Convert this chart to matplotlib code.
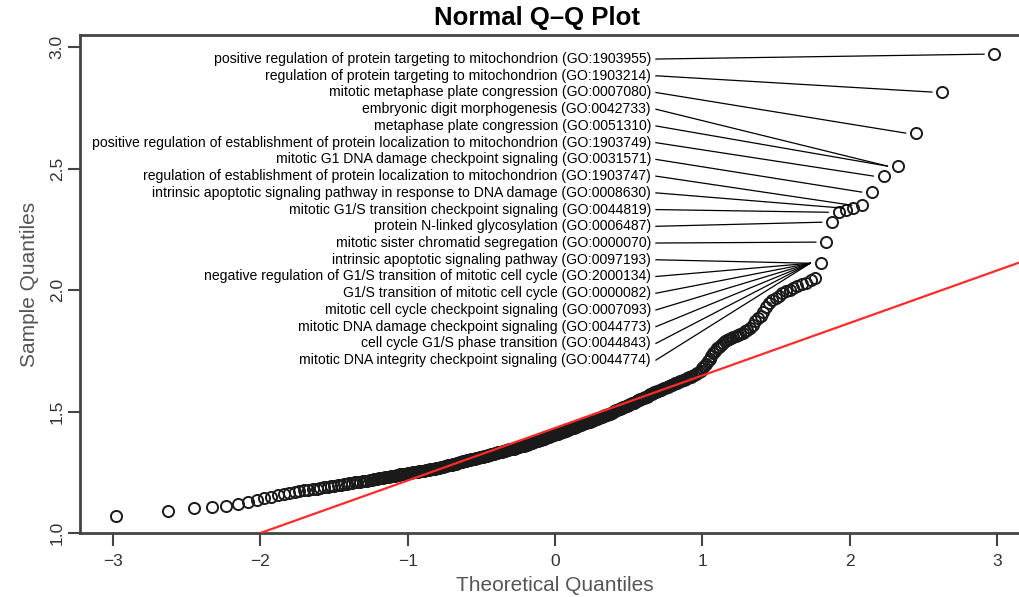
import numpy as np
import matplotlib.pyplot as plt
from statistics import NormalDist

plt.rcParams['font.family'] = ['Liberation Sans', 'DejaVu Sans']

# sorted sample values
sample = [
    1.069, 1.089, 1.101, 1.108, 1.111, 1.118, 1.127, 1.136, 1.144, 1.150,
    1.156, 1.161, 1.166, 1.169, 1.173, 1.176, 1.178, 1.181, 1.183, 1.185,
    1.188, 1.191, 1.193, 1.195, 1.197, 1.199, 1.201, 1.203, 1.205, 1.207,
    1.209, 1.210, 1.212, 1.213, 1.215, 1.216, 1.218, 1.220, 1.221, 1.224,
    1.225, 1.227, 1.228, 1.229, 1.231, 1.232, 1.234, 1.235, 1.236, 1.238,
    1.239, 1.241, 1.242, 1.244, 1.245, 1.246, 1.247, 1.248, 1.250, 1.251,
    1.252, 1.253, 1.254, 1.255, 1.256, 1.257, 1.258, 1.259, 1.260, 1.262,
    1.263, 1.264, 1.265, 1.267, 1.268, 1.269, 1.271, 1.272, 1.273, 1.275,
    1.276, 1.278, 1.279, 1.280, 1.282, 1.283, 1.285, 1.286, 1.288, 1.289,
    1.291, 1.292, 1.293, 1.295, 1.296, 1.297, 1.299, 1.300, 1.301, 1.303,
    1.304, 1.305, 1.306, 1.308, 1.309, 1.310, 1.311, 1.312, 1.313, 1.315,
    1.316, 1.317, 1.319, 1.320, 1.321, 1.322, 1.324, 1.325, 1.326, 1.328,
    1.329, 1.330, 1.332, 1.333, 1.334, 1.335, 1.336, 1.338, 1.339, 1.340,
    1.341, 1.343, 1.344, 1.345, 1.346, 1.347, 1.348, 1.350, 1.351, 1.353,
    1.354, 1.355, 1.357, 1.358, 1.359, 1.360, 1.361, 1.362, 1.364, 1.365,
    1.367, 1.369, 1.370, 1.372, 1.373, 1.375, 1.377, 1.378, 1.380, 1.381,
    1.383, 1.384, 1.386, 1.387, 1.389, 1.390, 1.392, 1.394, 1.395, 1.397,
    1.399, 1.400, 1.402, 1.403, 1.405, 1.406, 1.408, 1.409, 1.411, 1.413,
    1.414, 1.416, 1.417, 1.419, 1.421, 1.422, 1.424, 1.425, 1.427, 1.429,
    1.431, 1.433, 1.434, 1.436, 1.437, 1.439, 1.441, 1.443, 1.444, 1.446,
    1.448, 1.449, 1.451, 1.453, 1.454, 1.456, 1.458, 1.459, 1.461, 1.463,
    1.464, 1.466, 1.468, 1.469, 1.471, 1.472, 1.474, 1.476, 1.477, 1.480,
    1.482, 1.484, 1.486, 1.488, 1.490, 1.492, 1.494, 1.496, 1.498, 1.501,
    1.503, 1.505, 1.507, 1.509, 1.511, 1.513, 1.515, 1.517, 1.520, 1.522,
    1.525, 1.527, 1.529, 1.531, 1.534, 1.536, 1.537, 1.538, 1.542, 1.546,
    1.548, 1.550, 1.553, 1.555, 1.558, 1.560, 1.562, 1.565, 1.567, 1.571,
    1.574, 1.576, 1.579, 1.581, 1.584, 1.586, 1.588, 1.591, 1.593, 1.596,
    1.598, 1.601, 1.603, 1.606, 1.608, 1.611, 1.613, 1.616, 1.619, 1.622,
    1.624, 1.627, 1.630, 1.632, 1.635, 1.638, 1.641, 1.644, 1.647, 1.650,
    1.654, 1.659, 1.664, 1.669, 1.678, 1.688, 1.697, 1.708, 1.717, 1.728,
    1.740, 1.749, 1.760, 1.768, 1.776, 1.783, 1.789, 1.794, 1.798, 1.803,
    1.808, 1.812, 1.816, 1.820, 1.825, 1.830, 1.837, 1.845, 1.856, 1.872,
    1.884, 1.894, 1.911, 1.930, 1.949, 1.960, 1.969, 1.976, 1.987, 1.995,
    2.000, 2.009, 2.017, 2.024, 2.029, 2.040, 2.049,
    2.111, 2.198, 2.280, 2.321, 2.330, 2.338, 2.350, 2.404, 2.470, 2.511,
    2.647, 2.816, 2.972,
]

go_terms = [
    "positive regulation of protein targeting to mitochondrion (GO:1903955)",
    "regulation of protein targeting to mitochondrion (GO:1903214)",
    "mitotic metaphase plate congression (GO:0007080)",
    "embryonic digit morphogenesis (GO:0042733)",
    "metaphase plate congression (GO:0051310)",
    "positive regulation of establishment of protein localization to mitochondrion (GO:1903749)",
    "mitotic G1 DNA damage checkpoint signaling (GO:0031571)",
    "regulation of establishment of protein localization to mitochondrion (GO:1903747)",
    "intrinsic apoptotic signaling pathway in response to DNA damage (GO:0008630)",
    "mitotic G1/S transition checkpoint signaling (GO:0044819)",
    "protein N-linked glycosylation (GO:0006487)",
    "mitotic sister chromatid segregation (GO:0000070)",
    "intrinsic apoptotic signaling pathway (GO:0097193)",
    "negative regulation of G1/S transition of mitotic cell cycle (GO:2000134)",
    "G1/S transition of mitotic cell cycle (GO:0000082)",
    "mitotic cell cycle checkpoint signaling (GO:0007093)",
    "mitotic DNA damage checkpoint signaling (GO:0044773)",
    "cell cycle G1/S phase transition (GO:0044843)",
    "mitotic DNA integrity checkpoint signaling (GO:0044774)",
]
# rank of the labelled point, counted from the largest value
go_rank = [0, 1, 2, 3, 3, 4, 5, 6, 7, 9, 10, 11, 12, 12, 12, 12, 12, 12, 12]

sample = np.array(sample)
n = len(sample)
nd = NormalDist()
theo = np.array([nd.inv_cdf((i - 0.5) / n) for i in range(1, n + 1)])

# qqline through the quartiles, like R
qy = np.quantile(sample, [0.25, 0.75])
qx = np.array([nd.inv_cdf(0.25), nd.inv_cdf(0.75)])
slope = (qy[1] - qy[0]) / (qx[1] - qx[0])

fig = plt.figure(figsize=(10.19, 5.97), dpi=100)
ax = fig.add_axes([80 / 1019, 64 / 597, 950 / 1019, 498 / 597])
ax.set_xlim(-3.224, 3.224)
ax.set_ylim(1.0, 3.051)

ax.axline((qx[0], qy[0]), slope=slope, color='#ff2a2a', lw=1.6, zorder=3)
ax.plot(theo, sample, 'o', mfc='none', mec='#1a1a1a', ms=8, mew=1.4, zorder=2)

label_y = np.linspace(2.952, 1.712, len(go_terms))
for txt, ly, k in zip(go_terms, label_y, go_rank):
    idx = n - 1 - k
    ax.text(0.651, ly, txt, ha='right', va='center', fontsize=10.1, color='black')
    ax.plot([0.685, theo[idx] - 0.07], [ly, sample[idx]], color='black', lw=0.9, zorder=4)

ax.set_xticks([-3, -2, -1, 0, 1, 2, 3])
ax.set_yticks([1.0, 1.5, 2.0, 2.5, 3.0])
ax.set_yticklabels(['1.0', '1.5', '2.0', '2.5', '3.0'])
ax.tick_params(length=9, width=1.5, color='#444444', labelcolor='#333333',
               labelsize=12.5)
ax.tick_params(axis='x', pad=6)
ax.tick_params(axis='y', pad=2)
plt.setp(ax.get_yticklabels(), rotation=90, va='center')
for side in ['left', 'top', 'bottom']:
    ax.spines[side].set_color('#444444')
    ax.spines[side].set_linewidth(2)
ax.spines['right'].set_visible(False)

ax.set_xlabel('Theoretical Quantiles', fontsize=15, color='#555555', labelpad=5)
ax.set_ylabel('Sample Quantiles', fontsize=15, color='#555555', labelpad=8)
fig.text(537 / 1019, 1 - 18 / 597, 'Normal Q\u2013Q Plot', ha='center', va='center',
         fontsize=18.5, fontweight='bold')

fig.savefig('out.png', dpi=100)
